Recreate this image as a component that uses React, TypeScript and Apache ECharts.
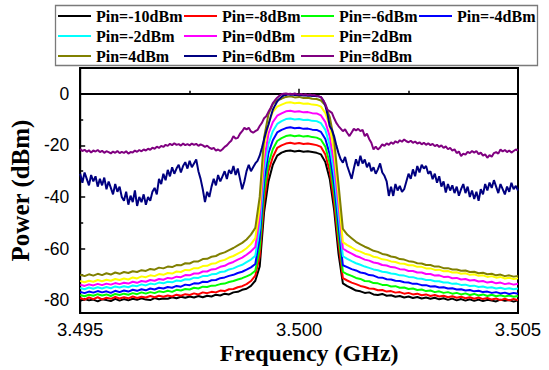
import React, { useEffect, useRef } from "react";
import * as echarts from "echarts";

// Frequency grids (GHz): coarse 0.0001 GHz step, fine 0.00005 GHz step, 3.495 .. 3.505
const freqStart = 3.495;
const coarseStep = 0.0001;
const fineStep = 0.00005;
const coarseFreqs: number[] = Array.from({ length: 101 }, (_, i) => +(freqStart + i * coarseStep).toFixed(5));
const fineFreqs: number[] = Array.from({ length: 201 }, (_, i) => +(freqStart + i * fineStep).toFixed(5));

const seriesNames = [
  "Pin=-10dBm", "Pin=-8dBm", "Pin=-6dBm", "Pin=-4dBm", "Pin=-2dBm",
  "Pin=0dBm", "Pin=2dBm", "Pin=4dBm", "Pin=6dBm", "Pin=8dBm",
];
const seriesColors = [
  "#000000", "#FF0000", "#00FF00", "#0000FF", "#00FFFF",
  "#FF00FF", "#FFFF00", "#808000", "#000080", "#800080",
];

const pinM10 = [
  -80.3, -79.6, -80.1, -79.8, -80.5, -79.7, -80.0, -80.4, -79.5, -80.2,
  -79.6, -80.1, -79.5, -79.9, -79.3, -79.8, -80.0, -79.2, -79.7, -79.4,
  -79.5, -78.9, -79.3, -78.7, -79.1, -78.6, -79.0, -78.4, -78.9, -78.3,
  -78.6, -77.9, -78.2, -77.5, -77.8, -77.0, -76.8, -76.0, -75.6, -74.5,
  -72.5, -67, -46, -34, -27.5, -24, -22.8,
  -22.2, -22.0, -22.4, -22.1, -22.5, -22.3, -22.6,
  -22.9, -23.5, -26.5, -33, -45, -62,
  -73.5, -74.6, -75.4, -76.3, -76.6, -77.2, -77.0, -77.8, -78.0, -77.6,
  -78.3, -78.1, -78.7, -78.4, -79.0, -78.6, -79.2, -78.8, -79.4, -79.0,
  -79.5, -79.1, -79.7, -79.3, -79.9, -79.4, -80.1, -79.6, -80.2, -79.7,
  -80.3, -79.8, -80.4, -79.9, -80.2, -80.5, -79.8, -80.3, -80.0, -80.6, -80.1,
];
const pinM8 = [
  -79.2, -79.8, -79.0, -79.6, -78.9, -79.7, -79.1, -79.5, -78.8, -79.4,
  -78.9, -79.3, -78.6, -79.2, -78.7, -79.0, -78.4, -78.9, -78.3, -78.7,
  -78.2, -78.6, -77.9, -78.3, -77.7, -78.0, -77.4, -77.8, -77.0, -77.3,
  -76.8, -77.0, -76.3, -76.5, -75.8, -75.7, -75.0, -74.6, -73.8, -72.6,
  -70.5, -63, -42, -30, -24.5, -21, -20,
  -19.3, -19.0, -19.4, -19.1, -19.5, -19.3, -19.6,
  -19.9, -20.6, -23.5, -30, -42, -58,
  -71.5, -72.4, -73.2, -73.8, -74.5, -74.9, -75.5, -75.6, -76.2, -76.1,
  -76.7, -76.5, -77.1, -76.9, -77.5, -77.2, -77.8, -77.5, -78.1, -77.8,
  -78.4, -78.0, -78.6, -78.3, -78.9, -78.5, -79.1, -78.7, -79.3, -78.9,
  -79.5, -79.0, -79.6, -79.2, -79.8, -79.4, -80.0, -79.5, -80.1, -79.6, -80.0,
];
const pinM6 = [
  -78.0, -78.5, -77.9, -78.3, -77.7, -78.2, -77.8, -78.4, -77.6, -78.0,
  -77.5, -77.9, -77.3, -77.7, -77.0, -77.5, -76.9, -77.3, -76.6, -76.9,
  -76.4, -76.8, -76.0, -76.3, -75.7, -75.9, -75.2, -75.5, -74.8, -74.9,
  -74.4, -74.3, -73.8, -73.6, -73.0, -72.6, -72.0, -71.5, -70.8, -70.0,
  -68.6, -60, -38, -27, -21.5, -18.3, -17.2,
  -16.4, -16.1, -16.5, -16.2, -16.6, -16.4, -16.8,
  -17.0, -17.8, -20.5, -27, -38.5, -55,
  -69.0, -70.0, -70.6, -71.4, -71.8, -72.6, -72.7, -73.4, -73.5, -74.1,
  -74.1, -74.7, -74.6, -75.2, -75.1, -75.7, -75.5, -76.1, -75.9, -76.5,
  -76.3, -76.9, -76.6, -77.2, -76.9, -77.5, -77.2, -77.8, -77.4, -78.0,
  -77.6, -78.2, -77.8, -78.4, -77.9, -78.5, -78.1, -78.6, -78.2, -78.7, -78.4,
];
const pinM4 = [
  -76.8, -77.3, -76.7, -77.1, -76.5, -77.0, -76.6, -77.2, -76.4, -76.9,
  -76.3, -76.7, -76.0, -76.4, -75.8, -76.2, -75.5, -75.9, -75.2, -75.5,
  -74.9, -75.2, -74.5, -74.8, -74.0, -74.2, -73.5, -73.6, -72.9, -73.0,
  -72.3, -72.2, -71.5, -71.2, -70.6, -70.2, -69.5, -69.0, -68.2, -67.3,
  -66.0, -56, -34, -23, -18, -15, -14,
  -13.3, -13.0, -13.4, -13.2, -13.6, -13.5, -13.9,
  -14.0, -14.8, -17.5, -23.5, -35, -51,
  -66.5, -67.2, -68.0, -68.5, -69.3, -69.6, -70.3, -70.5, -71.2, -71.3,
  -71.9, -72.0, -72.5, -72.6, -73.1, -73.2, -73.7, -73.7, -74.2, -74.2,
  -74.7, -74.6, -75.1, -75.0, -75.5, -75.4, -75.9, -75.8, -76.3, -76.1,
  -76.6, -76.4, -76.9, -76.7, -77.2, -76.9, -77.4, -77.1, -77.6, -77.2, -77.5,
];
const pinM2 = [
  -75.3, -75.8, -75.1, -75.6, -75.0, -75.5, -74.9, -75.4, -74.7, -75.1,
  -74.6, -75.0, -74.3, -74.6, -73.9, -74.3, -73.6, -73.9, -73.2, -73.5,
  -72.9, -73.1, -72.4, -72.6, -71.9, -72.0, -71.3, -71.4, -70.7, -70.7,
  -70.0, -69.9, -69.1, -68.9, -68.1, -67.7, -66.9, -66.3, -65.3, -64.3,
  -62.8, -52, -30, -19.5, -14.5, -11.7, -10.6,
  -9.8, -9.6, -10.0, -9.8, -10.2, -10.1, -10.5,
  -10.6, -11.4, -14, -20, -31, -47,
  -63.0, -64.0, -64.9, -65.7, -66.3, -67.0, -67.5, -68.1, -68.4, -69.0,
  -69.2, -69.7, -69.9, -70.4, -70.5, -71.0, -71.1, -71.6, -71.7, -72.2,
  -72.2, -72.7, -72.7, -73.2, -73.2, -73.7, -73.6, -74.1, -74.0, -74.5,
  -74.4, -74.9, -74.7, -75.2, -75.0, -75.5, -75.2, -75.7, -75.4, -75.8, -75.5,
];
const pin0 = [
  -74.0, -74.5, -73.9, -74.3, -73.7, -74.2, -73.6, -74.0, -73.4, -73.8,
  -73.3, -73.6, -72.9, -73.3, -72.6, -72.9, -72.2, -72.5, -71.8, -72.1,
  -71.4, -71.6, -70.9, -71.1, -70.3, -70.4, -69.7, -69.7, -68.9, -68.9,
  -68.1, -67.9, -67.1, -66.7, -65.8, -65.2, -64.3, -63.5, -62.4, -61.1,
  -59.4, -48, -26, -15.5, -11, -8.5, -7.6,
  -6.8, -6.6, -7.0, -6.8, -7.2, -7.1, -7.5,
  -7.6, -8.4, -11, -16.5, -27, -43,
  -60.0, -61.1, -62.0, -62.9, -63.5, -64.3, -64.7, -65.4, -65.7, -66.4,
  -66.6, -67.2, -67.4, -68.0, -68.1, -68.7, -68.7, -69.3, -69.3, -69.9,
  -69.9, -70.5, -70.4, -71.0, -70.9, -71.5, -71.4, -72.0, -71.8, -72.4,
  -72.2, -72.8, -72.6, -73.2, -72.9, -73.5, -73.2, -73.8, -73.5, -74.0, -73.7,
];
const pin2 = [
  -72.6, -73.1, -72.5, -72.9, -72.2, -72.7, -72.1, -72.5, -71.8, -72.2,
  -71.6, -72.0, -71.2, -71.6, -70.8, -71.1, -70.4, -70.7, -69.9, -70.2,
  -69.5, -69.7, -68.9, -69.1, -68.3, -68.4, -67.6, -67.6, -66.8, -66.7,
  -65.9, -65.7, -64.8, -64.4, -63.5, -62.9, -62.0, -61.1, -59.9, -58.3,
  -56.0, -44, -21, -11.5, -7, -5, -4.2,
  -3.5, -3.3, -3.7, -3.5, -3.9, -3.8, -4.2,
  -4.3, -5.0, -7.5, -12.5, -22.5, -39,
  -57.5, -58.7, -59.6, -60.6, -61.2, -62.0, -62.4, -63.2, -63.5, -64.2,
  -64.4, -65.0, -65.2, -65.8, -65.9, -66.5, -66.5, -67.1, -67.1, -67.7,
  -67.7, -68.3, -68.2, -68.8, -68.7, -69.3, -69.2, -69.8, -69.6, -70.2,
  -70.0, -70.6, -70.4, -71.0, -70.7, -71.3, -71.0, -71.6, -71.3, -71.8, -71.5,
];
const pin4 = [
  -70.2, -70.7, -70.0, -70.5, -69.8, -70.3, -69.6, -70.1, -69.3, -69.8,
  -69.1, -69.5, -68.8, -69.1, -68.4, -68.7, -67.9, -68.2, -67.4, -67.7,
  -67.0, -67.2, -66.4, -66.5, -65.7, -65.8, -65.0, -65.0, -64.1, -64.0,
  -63.2, -62.9, -62.0, -61.5, -60.6, -59.8, -58.8, -57.8, -56.5, -54.6,
  -52.0, -40, -17, -8, -4, -2.5, -1.9,
  -1.2, -1.0, -1.4, -1.2, -1.6, -1.5, -1.9,
  -2.0, -2.6, -4.5, -9, -18, -35,
  -52.4, -54.6, -56.0, -57.4, -58.4, -59.3, -60.0, -60.9, -61.3, -62.1,
  -62.4, -63.1, -63.4, -64.1, -64.3, -64.9, -65.1, -65.7, -65.8, -66.4,
  -66.4, -67.0, -67.0, -67.6, -67.6, -68.1, -68.1, -68.6, -68.5, -69.1,
  -69.0, -69.6, -69.4, -70.0, -69.8, -70.4, -70.1, -70.7, -70.4, -70.9, -70.6,
];
// fine grid (201 points)
const pin6 = [
  -31, -34.5, -30.5, -33, -35.5, -31.5, -34, -32, -36, -33,
  -35.5, -32.5, -37, -34, -36.5, -39, -35, -38, -36, -40,
  -41.5, -38, -43, -39.5, -42, -37.5, -43.5, -40, -42, -39,
  -43, -40, -41.5, -38, -36.5, -39, -33, -35, -31, -33.5,
  -29.5, -32, -28.5, -31, -29, -27.5, -30.5, -28, -26.5, -29,
  -26, -28.5, -27, -25.5, -30, -33, -37, -42, -38, -40,
  -36, -33, -35.5, -31.5, -34, -32, -30, -33, -29.5, -31,
  -28, -31.5, -29, -33, -37, -34, -30, -27.5, -30, -28.5,
  -27, -26, -24, -21, -17.7, -14.5, -12, -9, -6.2, -4.5,
  -3, -2, -1.2, -0.6, -0.5, -0.2, -0.4, -0.3, -0.5, -0.4,
  -0.6, -0.5, -0.7, -0.6, -0.8, -0.7, -0.9, -0.8, -1.0, -1.0,
  -1.3, -2.5, -4.5, -8, -12.6, -14, -16.5, -20, -23, -25.4,
  -26.7, -24.5, -28, -30.5, -33, -29, -25.4, -28, -24, -27,
  -25.5, -28.5, -26.7, -30, -28.5, -31, -29.3, -27, -30.5, -31.8,
  -34, -39.6, -36, -39.6, -35, -37.5, -35.7, -38, -37, -34,
  -31, -33, -29.3, -32, -28, -30.5, -27.5, -29, -28, -31,
  -30, -33.1, -31, -34.5, -32, -36, -34, -38.3, -35, -37.5,
  -35.5, -38.5, -36, -39.5, -37, -35, -38.5, -36, -40, -37.5,
  -40.8, -38, -41.5, -37, -39, -35, -37.5, -34.4, -36.5, -33.5,
  -36, -38.5, -35, -37, -39, -36, -38, -34.5, -37, -35.7, -37.5,
];
const pin8 = [
  -21.4, -22.2, -21.7, -22.5, -21.9, -22.8, -22.0, -22.4, -21.8, -22.6,
  -22.1, -22.9, -22.3, -22.6, -23.1, -22.4, -22.9, -22.2, -23.0, -22.5,
  -22.9, -22.3, -23.2, -22.6, -22.8, -22.0, -22.5, -21.8, -22.3, -21.6,
  -22.0, -21.3, -21.7, -20.9, -21.3, -20.5, -21.0, -20.2, -20.6, -19.8,
  -20.2, -19.4, -19.9, -19.2, -19.8, -19.5, -20.1, -19.3, -19.9, -19.5,
  -20.0, -19.3, -19.8, -19.4, -20.2, -19.6, -20.0, -20.6, -20.1, -20.9,
  -21.4, -21.0, -22.0, -21.6, -22.2, -21.5, -20.6, -20.0, -19.0, -18.2,
  -16.4, -17.4, -17.1, -15.5, -14.5, -13.2, -13.8, -13.2, -14.6, -15.1,
  -14.5, -14.0, -12.5, -11.3, -9.5, -8.7, -7, -5.5, -3.6, -2.5,
  -1.5, -0.8, -0.2, 0, 0.1, -0.1, 0, -0.2, 0.1, -0.2,
  -0.3, -0.1, -0.4, -0.2, -0.5, -0.3, -0.6, -0.5, -0.8, -1.0,
  -1.3, -2.5, -4.0, -6.2, -6.8, -7.4, -9.5, -11.3, -12.5, -13.5,
  -14.5, -13.8, -15.2, -16.4, -15.0, -13.6, -14.2, -13.6, -14.5, -14.0,
  -16.4, -15.5, -17.5, -19.0, -21.6, -20.5, -21.6, -20.8, -19.6, -20.2,
  -19.2, -19.8, -18.8, -19.4, -18.4, -19.0, -18.0, -18.6, -17.7, -18.4,
  -18.8, -18.2, -19.0, -18.5, -19.3, -18.8, -19.6, -19.0, -19.8, -19.2,
  -19.9, -19.4, -20.3, -19.8, -20.6, -20.0, -21.0, -20.4, -21.5, -21.0,
  -22.0, -21.5, -23.0, -22.4, -24.1, -23.2, -23.6, -22.5, -23.0, -22.2,
  -22.8, -22.2, -23.4, -22.8, -24.0, -23.5, -24.8, -23.8, -24.4, -23.0,
  -22.6, -23.2, -21.6, -22.4, -21.8, -22.6, -22.0, -22.8, -22.2, -21.6, -22.0,
];

const seriesValues = [pinM10, pinM8, pinM6, pinM4, pinM2, pin0, pin2, pin4, pin6, pin8];
const seriesGrids = [
  coarseFreqs, coarseFreqs, coarseFreqs, coarseFreqs, coarseFreqs,
  coarseFreqs, coarseFreqs, coarseFreqs, fineFreqs, fineFreqs,
];

const xTickLabels = [3.495, 3.5, 3.505];
const yMajorTicks = [-80, -60, -40, -20, 0];
const yMinorTicks = [-70, -50, -30, -10];

const legendColumns = [
  ["Pin=-10dBm", "Pin=-2dBm", "Pin=4dBm"],
  ["Pin=-8dBm", "Pin=0dBm", "Pin=6dBm"],
  ["Pin=-6dBm", "Pin=2dBm", "Pin=8dBm"],
  ["Pin=-4dBm"],
];
const legendLefts = [58, 184, 301, 419];

export default function App() {
  const ref = useRef<HTMLDivElement>(null);
  useEffect(() => {
    if (!ref.current) return;
    const chart = echarts.init(ref.current, undefined, { renderer: "svg" });
    const serif = "'Liberation Serif', 'Times New Roman', serif";
    const sans = "'Liberation Sans', Arial, sans-serif";
    const legendBox = {
      type: "rect",
      shape: { x: 55.5, y: 5.5, width: 482, height: 60 },
      style: { fill: "none", stroke: "#7a7a7a", lineWidth: 1.3 },
      z: 100,
    };
    chart.setOption({
      animation: false,
      backgroundColor: "#ffffff",
      grid: {
        left: 72,
        top: 68,
        right: 31,
        bottom: 56,
        show: true,
        borderColor: "#000",
        borderWidth: 2,
        backgroundColor: "transparent",
      },
      legend: legendColumns.map((col, ci) => ({
        data: col,
        orient: "vertical",
        left: legendLefts[ci],
        top: 8,
        icon: "rect",
        itemWidth: 33,
        itemHeight: 2,
        itemGap: 4,
        padding: 0,
        selectedMode: false,
        textStyle: {
          fontFamily: serif,
          fontWeight: "bold",
          fontSize: 16,
          color: "#000",
        },
      })),
      graphic: [legendBox],
      xAxis: {
        type: "value",
        min: 3.495,
        max: 3.505,
        interval: 0.005,
        name: "Frequency (GHz)",
        nameLocation: "middle",
        nameGap: 28,
        nameTextStyle: {
          fontFamily: serif,
          fontWeight: "bold",
          fontSize: 24,
          lineHeight: 24,
          color: "#000",
          padding: [0, 0, 0, 20],
        },
        axisLine: { show: true, lineStyle: { color: "#000", width: 2 } },
        axisTick: { show: true, inside: true, length: 5, lineStyle: { color: "#000", width: 1.5 } },
        minorTick: { show: true, splitNumber: 2, length: 3, lineStyle: { color: "#000", width: 1.5 } },
        splitLine: { show: false },
        axisLabel: { show: false },
      },
      yAxis: [
        {
          type: "value",
          min: -85,
          max: 10,
          name: "Power (dBm)",
          nameLocation: "middle",
          nameGap: 35,
          nameTextStyle: {
            fontFamily: serif,
            fontWeight: "bold",
            fontSize: 25,
            color: "#000",
          },
          axisLine: { show: true, lineStyle: { color: "#000", width: 2 } },
          axisTick: {
            show: true,
            inside: true,
            length: 5,
            customValues: yMajorTicks,
            lineStyle: { color: "#000", width: 1.5 },
          },
          splitLine: { show: false },
          axisLabel: {
            margin: 11,
            fontFamily: sans,
            fontSize: 17.5,
            color: "#000",
            customValues: yMajorTicks,
          },
        },
        {
          type: "value",
          min: -85,
          max: 10,
          position: "left",
          axisLine: { show: false },
          axisTick: {
            show: true,
            inside: true,
            length: 3,
            customValues: yMinorTicks,
            lineStyle: { color: "#000", width: 1.5 },
          },
          axisLabel: { show: false },
          splitLine: { show: false },
        },
      ],
      series: seriesNames.map((name, si) => ({
        name,
        type: "line",
        yAxisIndex: 0,
        symbol: "none",
        showSymbol: false,
        color: seriesColors[si],
        lineStyle: { color: seriesColors[si], width: 2 },
        data: seriesGrids[si].map((f, i) => [f, seriesValues[si][i]]),
      })),
    });
    // x tick labels placed through the x axis scale
    const axisY = chart.convertToPixel({ yAxisIndex: 0 }, -85) as number;
    const xLabels = xTickLabels.map((v) => ({
      type: "text",
      x: chart.convertToPixel({ xAxisIndex: 0 }, v) as number,
      y: axisY + 16,
      style: {
        text: v.toFixed(3),
        fontFamily: sans,
        fontSize: 18.5,
        fill: "#000",
        align: "center",
        verticalAlign: "middle",
      },
    }));
    chart.setOption({ graphic: [legendBox, ...xLabels] });
    return () => chart.dispose();
  }, []);
  return (
    <div
      ref={ref}
      style={{ position: "fixed", left: 0, top: 0, width: 549, height: 370 }}
    />
  );
}
